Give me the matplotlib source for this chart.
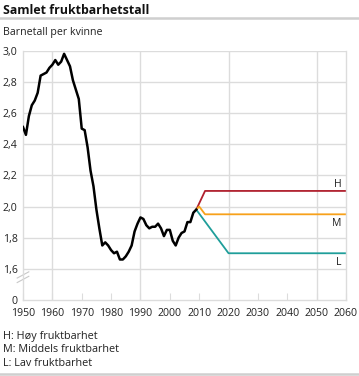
import matplotlib
matplotlib.use("Agg")
import matplotlib.pyplot as plt
from matplotlib.lines import Line2D

plt.rcParams['font.family'] = ['Open Sans', 'DejaVu Sans']

years = list(range(1950, 2010))
tfr = [2.51, 2.46, 2.58, 2.65, 2.68, 2.73, 2.84, 2.85, 2.86, 2.89,
       2.91, 2.94, 2.91, 2.93, 2.98, 2.94, 2.90, 2.81, 2.75, 2.69,
       2.50, 2.49, 2.38, 2.23, 2.13, 1.98, 1.86, 1.75, 1.77, 1.75,
       1.72, 1.70, 1.71, 1.66, 1.66, 1.68, 1.71, 1.75, 1.84, 1.89,
       1.93, 1.92, 1.88, 1.86, 1.87, 1.87, 1.89, 1.86, 1.81, 1.85,
       1.85, 1.78, 1.75, 1.80, 1.83, 1.84, 1.90, 1.90, 1.96, 1.98]

high_years = [2009, 2012, 2060]
high_vals = [1.98, 2.10, 2.10]
mid_years = [2009, 2010, 2012, 2060]
mid_vals = [1.98, 2.00, 1.95, 1.95]
low_years = [2009, 2020, 2060]
low_vals = [1.98, 1.70, 1.70]

ytick_vals = [1.4, 1.6, 1.8, 2.0, 2.2, 2.4, 2.6, 2.8, 3.0]
ytick_labels = ['0', '1,6', '1,8', '2,0', '2,2', '2,4', '2,6', '2,8', '3,0']
xtick_vals = list(range(1950, 2061, 10))
xgrid_vals = [1960, 1990, 2020, 2050]

W, H = 359, 376
fig = plt.figure(figsize=(W / 100, H / 100), dpi=100)
ax = fig.add_axes([23 / W, 1 - 300 / H, (346 - 23) / W, (300 - 50.7) / H])

grid_c = '#dcdcdc'
ax.set_xlim(1950, 2060)
ax.set_ylim(1.4, 3.0)
for v in ytick_vals[1:]:
    ax.axhline(v, color=grid_c, lw=1.0, zorder=0)
for v in xgrid_vals:
    ax.axvline(v, color=grid_c, lw=1.0, zorder=0)
for s in ['left', 'right', 'bottom']:
    ax.spines[s].set_color(grid_c)
    ax.spines[s].set_linewidth(1.0)
ax.spines['top'].set_visible(False)

ax.plot(high_years, high_vals, color='#b0202e', lw=1.3, zorder=2)
ax.plot(mid_years, mid_vals, color='#f7a11a', lw=1.3, zorder=2)
ax.plot(low_years, low_vals, color='#1f9e9a', lw=1.3, zorder=2)
ax.plot(years, tfr, color='black', lw=1.8, zorder=3)

ax.set_xticks(xtick_vals)
ax.set_xticklabels([str(v) for v in xtick_vals])
ax.set_yticks(ytick_vals)
ax.set_yticklabels(ytick_labels)
ax.tick_params(axis='x', direction='in', length=5, color=grid_c, labelsize=7.6,
               labelcolor='#222222', pad=6)
ax.tick_params(axis='y', length=0, labelsize=7.6, labelcolor='#222222', pad=4)

lab_kw = dict(ha='right', va='center', fontsize=7.6, color='#222222')
ax.text(2058.5, 2.14, 'H', **lab_kw)
ax.text(2058.5, 1.89, 'M', **lab_kw)
ax.text(2058.5, 1.64, 'L', **lab_kw)

# axis break marks
for dy in (0, 0.018):
    ax.add_line(Line2D([-0.018, 0.018], [0.07 + dy, 0.095 + dy], transform=ax.transAxes,
                       color='#c8c8c8', lw=0.8, clip_on=False))

fig.text(3 / W, 1 - 10 / H, 'Samlet fruktbarhetstall', fontsize=8.9, fontweight='bold',
         color='#111111', ha='left', va='center')
fig.add_artist(Line2D([0, 1], [1 - 17.5 / H] * 2, transform=fig.transFigure,
                      color='#cfcfcf', lw=1.8))
fig.text(3 / W, 1 - 33 / H, 'Barnetall per kvinne', fontsize=7.7, color='#222222',
         ha='left', va='center')

for i, t in enumerate(['H: Høy fruktbarhet', 'M: Middels fruktbarhet', 'L: Lav fruktbarhet']):
    fig.text(3 / W, 1 - (337 + 13 * i) / H, t, fontsize=7.8, color='#222222',
             ha='left', va='center')
fig.add_artist(Line2D([0, 1], [1 - 374 / H] * 2, transform=fig.transFigure,
                      color='#cfcfcf', lw=1.8))

fig.savefig('out.png', dpi=100)
